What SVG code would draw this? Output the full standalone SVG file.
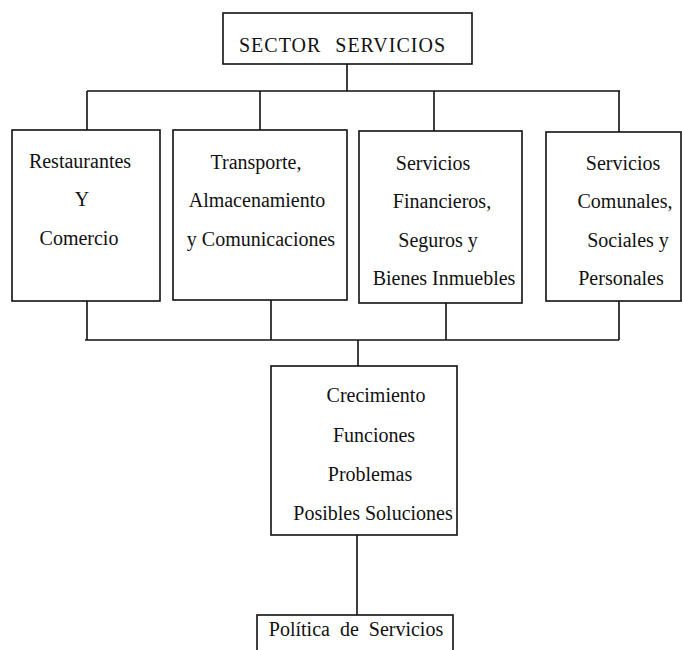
<svg xmlns="http://www.w3.org/2000/svg" width="682" height="650" viewBox="0 0 682 650">
<style>
.box{fill:#fff;stroke:#111;stroke-width:1.6}
.ln{stroke:#111;stroke-width:1.6;fill:none}
.t{font-family:'Liberation Serif','Times New Roman','DejaVu Serif',serif;font-size:20px;fill:#111;text-anchor:middle}
</style>
<rect width="682" height="650" fill="#fff"/>
<g id="connectors">
<path class="ln" d="M347 64V91M87 91H620M87 91V130M260 91V130M434 91V131M619 91V132"/>
<path class="ln" d="M87 301V340M271 300V340M446 303V340M619 301V340M85 340H619M358 340V366M357 535V615"/>
</g>
<g class="t" font-family="Liberation Serif, serif">
<g id="sector"><rect class="box" x="223" y="13" width="249" height="51"/><text x="342" y="52" word-spacing="8" textLength="206">SECTOR SERVICIOS</text></g>
<g id="restaurantes"><rect class="box" x="12" y="130" width="148" height="171"/>
<text x="80" y="168">Restaurantes</text><text x="82" y="206">Y</text><text x="79" y="245">Comercio</text></g>
<g id="transporte"><rect class="box" x="173" y="130" width="174" height="170"/>
<text x="256" y="169">Transporte,</text><text x="257" y="207">Almacenamiento</text><text x="261" y="246">y Comunicaciones</text></g>
<g id="financieros"><rect class="box" x="359" y="131" width="163" height="172"/>
<text x="433" y="170">Servicios</text><text x="442" y="208">Financieros,</text><text x="438" y="247">Seguros y</text><text x="444" y="285">Bienes Inmuebles</text></g>
<g id="comunales"><rect class="box" x="546" y="132" width="135" height="169"/>
<text x="623" y="170">Servicios</text><text x="625" y="208">Comunales,</text><text x="628" y="247">Sociales y</text><text x="621" y="285">Personales</text></g>
<g id="analisis"><rect class="box" x="271" y="366" width="186" height="169"/>
<text x="376" y="402">Crecimiento</text><text x="374" y="442">Funciones</text><text x="370" y="481">Problemas</text><text x="373" y="520">Posibles Soluciones</text></g>
<g id="politica"><rect class="box" x="257" y="615" width="196" height="50"/>
<text x="356" y="636" word-spacing="5">Política de Servicios</text></g>
</g>
</svg>
